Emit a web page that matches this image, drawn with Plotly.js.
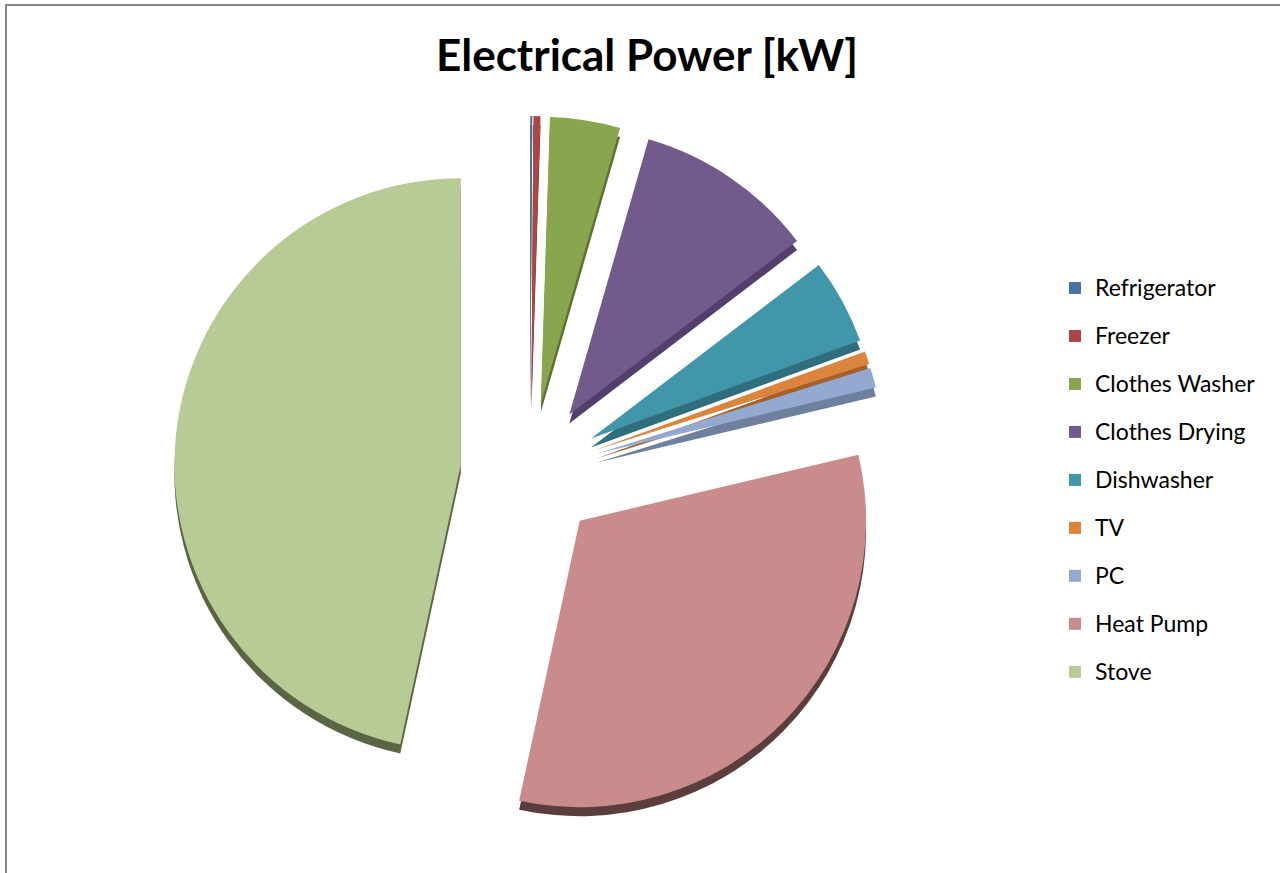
<!DOCTYPE html>
<html>
<head>
<meta charset="utf-8">
<script src="https://cdn.plot.ly/plotly-3.0.1.min.js"></script>
<style>
  html, body { margin: 0; padding: 0; background: #ffffff; }
  #chart { width: 1280px; height: 873px; }
</style>
</head>
<body>
<div id="chart"></div>
<script>
// Appliance loads, kW
const labels = ['Refrigerator', 'Freezer', 'Clothes Washer', 'Clothes Drying',
                'Dishwasher', 'TV', 'PC', 'Heat Pump', 'Stove'];
const powerKW = [0.02, 0.07, 0.70, 1.80, 0.85, 0.13, 0.20, 5.68, 8.25];

// Face colours and the darker side colours of the extruded pie
const faceColors = ['#4672a8', '#aa4644', '#89a54e', '#725a8d', '#4296a9',
                    '#db843d', '#93a9cf', '#c98b8b', '#b8cb96'];
const sideColors = ['#2f4d72', '#6e2e2c', '#5e7236', '#533f6b', '#2f6e7d',
                    '#a3602a', '#6f809e', '#5c3d3d', '#5b6543'];

const W = 1280, H = 873;
const explode = 0.243;
// pie box in pixels (centre and half size)
const cx = 530, cy = 472, half = 356, depth = 9;

function domainFor(offsetY) {
  return {
    x: [(cx - half) / W, (cx + half) / W],
    y: [1 - (cy + offsetY + half) / H, 1 - (cy + offsetY - half) / H]
  };
}

// legend entries drawn smaller than the legend font so rows get taller spacing
const legendText = labels.map(l =>
  '<span style="font-size:23px;baseline-shift:5px">' + l + '</span>');

const common = {
  type: 'pie',
  labels: legendText,
  values: powerKW,
  sort: false,
  direction: 'clockwise',
  rotation: 0,
  pull: labels.map(() => explode),
  textinfo: 'none'
};

const side = Object.assign({}, common, {
  domain: domainFor(depth),
  marker: { colors: sideColors, line: { width: 0 } },
  showlegend: false,
  hoverinfo: 'skip'
});

const face = Object.assign({}, common, {
  domain: domainFor(0),
  marker: { colors: faceColors, line: { width: 0 } },
  hovertemplate: '%{label}: %{value} kW<extra></extra>'
});

const layout = {
  width: W,
  height: H,
  margin: { l: 0, r: 0, t: 0, b: 0 },
  paper_bgcolor: '#ffffff',
  font: { family: 'Lato, "Open Sans", sans-serif', color: '#000000' },
  title: {
    text: 'Electrical Power [kW]',
    font: { family: 'Lato, sans-serif', size: 44, weight: 700, color: '#000000' },
    x: 647 / W,
    xanchor: 'center',
    xref: 'paper',
    y: 1 - 56 / H,
    yref: 'container',
    yanchor: 'middle'
  },
  legend: {
    x: 1055 / W,
    xanchor: 'left',
    y: 1 - 259 / H,
    yanchor: 'top',
    font: { family: 'Lato, sans-serif', size: 34.6, color: '#000000' },
    bgcolor: 'rgba(0,0,0,0)',
    borderwidth: 0
  },
  shapes: [{
    type: 'rect',
    xref: 'paper', yref: 'paper',
    x0: 6 / W, x1: 1290 / W,
    y0: 1 - 890 / H, y1: 1 - 5 / H,
    line: { color: '#878787', width: 2 },
    fillcolor: 'rgba(0,0,0,0)',
    layer: 'below'
  }]
};

Plotly.newPlot('chart', [side, face], layout, { displayModeBar: false });
</script>
</body>
</html>
